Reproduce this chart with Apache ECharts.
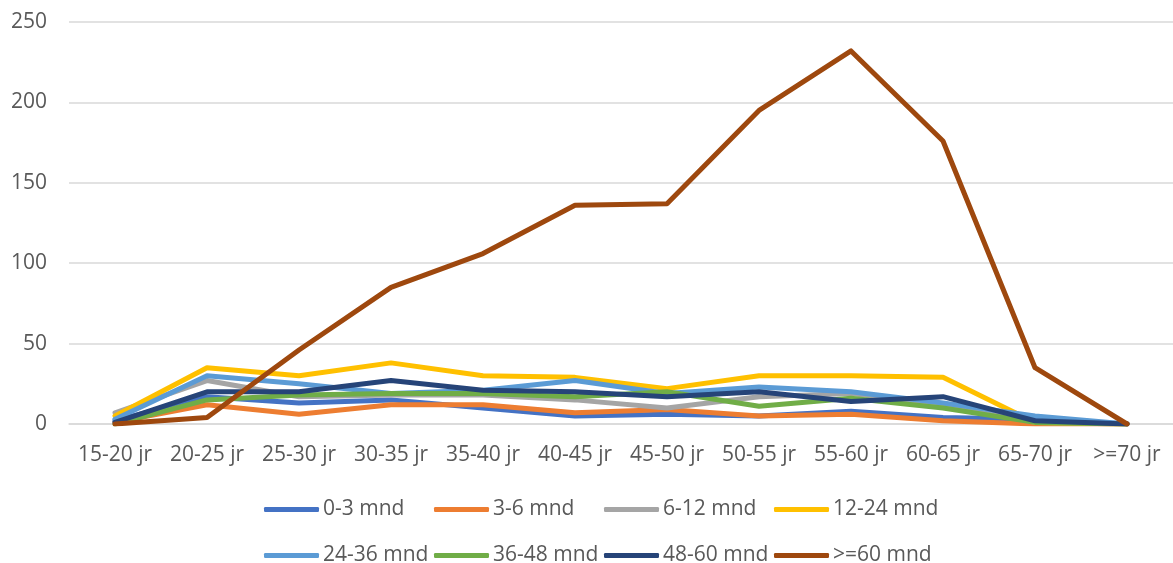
<!DOCTYPE html>
<html><head><meta charset="utf-8">
<script src="https://cdn.jsdelivr.net/npm/echarts@6/dist/echarts.min.js"></script>
<style>html,body{margin:0;padding:0;background:#fff}#c{width:1173px;height:563px}</style>
</head><body><div id="c"></div>
<script>
const categories = ['15-20 jr','20-25 jr','25-30 jr','30-35 jr','35-40 jr','40-45 jr','45-50 jr','50-55 jr','55-60 jr','60-65 jr','65-70 jr','>=70 jr'];
const seriesNames = ['0-3 mnd','3-6 mnd','6-12 mnd','12-24 mnd','24-36 mnd','36-48 mnd','48-60 mnd','>=60 mnd'];
const s0_3   = [2, 17, 13, 15, 10, 5, 6, 5, 8, 4, 3, 0];
const s3_6   = [1, 12, 6, 12, 12, 7, 9, 5, 6, 2, 0, 0];
const s6_12  = [7, 27, 17, 18, 18, 15, 10, 17, 19, 12, 1, 0];
const s12_24 = [5, 35, 30, 38, 30, 29, 22, 30, 30, 29, 1, 0];
const s24_36 = [3, 30, 25, 19, 21, 27, 19, 23, 20, 13, 5, 0];
const s36_48 = [0, 15, 18, 19, 19, 17, 20, 11, 16, 10, 1, 0];
const s48_60 = [1, 20, 20, 27, 21, 20, 17, 20, 14, 17, 2, 0];
const s60    = [0, 4, 46, 85, 106, 136, 137, 195, 232, 176, 35, 0];
const yTicks = {min: 0, max: 250, interval: 50};

const values = [s0_3, s3_6, s6_12, s12_24, s24_36, s36_48, s48_60, s60];
const colors = ['#4472C4','#ED7D31','#A5A5A5','#FFC000','#5B9BD5','#70AD47','#264478','#9E480E'];
const FONT = 'Open Sans';
const legendCols = [264, 434, 604, 774];
const legendRows = [499, 545];

const chart = echarts.init(document.getElementById('c'), null, {renderer:'canvas'});
chart.setOption({
  animation: false,
  backgroundColor: '#fff',
  textStyle: {fontFamily: FONT},
  grid: {left: 69, right: 0, top: 22, bottom: 139, containLabel: false},
  legend: seriesNames.map((n, i) => ({
    data: [n], left: legendCols[i % 4], top: legendRows[Math.floor(i / 4)],
    icon: 'roundRect', itemWidth: 55, itemHeight: 5, itemGap: 0,
    textStyle: {fontFamily: FONT, fontSize: 21, color: '#595959', padding: [0,0,0,-1]},
    padding: 0
  })),
  xAxis: {
    type: 'category', data: categories, boundaryGap: true,
    axisLine: {show: true, lineStyle: {color: '#d9d9d9', width: 1.5}},
    axisTick: {show: false},
    axisLabel: {fontFamily: FONT, fontSize: 21, color: '#595959', margin: 21, interval: 0}
  },
  yAxis: {
    type: 'value', min: yTicks.min, max: yTicks.max, interval: yTicks.interval,
    axisLine: {show: false}, axisTick: {show: false},
    splitLine: {lineStyle: {color: '#d9d9d9', width: 1.5}},
    axisLabel: {fontFamily: FONT, fontSize: 21, color: '#595959', margin: 22}
  },
  series: seriesNames.map((n, i) => ({
    name: n, type: 'line', data: values[i], showSymbol: false, symbol: 'none',
    lineStyle: {color: colors[i], width: 5, cap: 'round', join: 'round'},
    itemStyle: {color: colors[i]}
  }))
});
</script></body></html>
